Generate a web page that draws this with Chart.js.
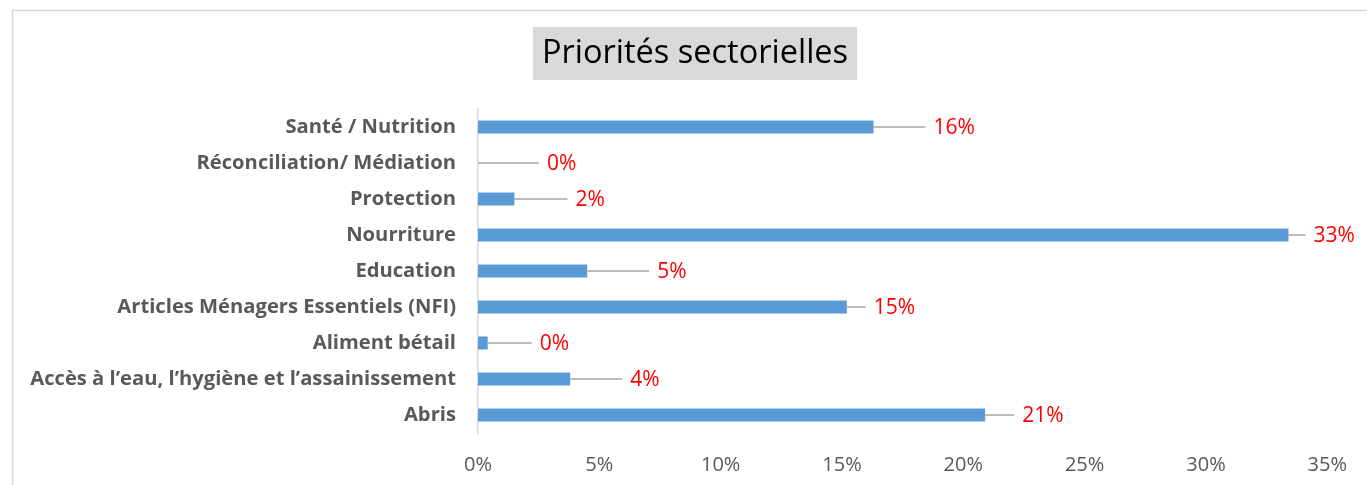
<!DOCTYPE html>
<html><head><meta charset="utf-8">
<script src="https://cdn.jsdelivr.net/npm/chart.js@4"></script>
<style>html,body{margin:0;padding:0;background:#fff}canvas{display:block}</style>
</head><body>
<div style="width:1367px;height:485px"><canvas id="c" width="1367" height="485"></canvas></div>
<script>
const categories = [
  'Santé / Nutrition',
  'Réconciliation/ Médiation',
  'Protection',
  'Nourriture',
  'Education',
  'Articles Ménagers Essentiels (NFI)',
  'Aliment bétail',
  'Accès à l\u2019eau, l\u2019hygiène et l\u2019assainissement',
  'Abris'
];
const values = [16.3, 0, 1.5, 33.4, 4.5, 15.2, 0.4, 3.8, 20.9];
const xTicks = [0, 5, 10, 15, 20, 25, 30, 35];
const titleText = 'Priorités sectorielles';
// leader-line lengths (px) for the data labels, as placed in the original
const leaderLengths = [52, 61, 53, 17, 62, 19, 44, 52, 29];

const FONT = '"Open Sans", "Noto Sans", sans-serif';

const decor = {
  id: 'decor',
  beforeDraw(chart) {
    const ctx = chart.ctx;
    ctx.save();
    ctx.fillStyle = '#fff';
    ctx.fillRect(0, 0, chart.width, chart.height);
    ctx.strokeStyle = '#d9d9d9';
    ctx.lineWidth = 1.5;
    ctx.beginPath();
    ctx.moveTo(12.5, chart.height);
    ctx.lineTo(12.5, 10.5);
    ctx.lineTo(chart.width, 10.5);
    ctx.stroke();
    // title box
    ctx.font = '32.5px ' + FONT;
    const w = ctx.measureText(titleText).width;
    const cx = 695, cy = 53.5;
    ctx.fillStyle = '#d9d9d9';
    ctx.fillRect(cx - w / 2 - 9, 27, w + 18, 53);
    ctx.fillStyle = '#000';
    ctx.textAlign = 'center';
    ctx.textBaseline = 'middle';
    ctx.fillText(titleText, cx, cy);
    ctx.restore();
  },
  afterDatasetsDraw(chart) {
    const ctx = chart.ctx;
    const meta = chart.getDatasetMeta(0);
    ctx.save();
    ctx.font = '21px ' + FONT;
    ctx.textAlign = 'left';
    ctx.textBaseline = 'middle';
    meta.data.forEach((bar, i) => {
      const x0 = bar.x, y = bar.y;
      const x1 = x0 + leaderLengths[i];
      ctx.strokeStyle = '#a6a6a6';
      ctx.lineWidth = 1.5;
      ctx.beginPath();
      ctx.moveTo(x0, y);
      ctx.lineTo(x1, y);
      ctx.stroke();
      ctx.fillStyle = '#ff0000';
      ctx.fillText(Math.round(values[i]) + '%', x1 + 8, y + 1);
    });
    ctx.restore();
  }
};

new Chart(document.getElementById('c'), {
  type: 'bar',
  data: {
    labels: categories,
    datasets: [{
      data: values,
      backgroundColor: '#5b9bd5',
      borderWidth: 0,
      barPercentage: 0.36,
      categoryPercentage: 1
    }]
  },
  options: {
    indexAxis: 'y',
    responsive: false,
    animation: false,
    devicePixelRatio: 1,
    layout: { padding: { top: 109, right: 36, left: 0, bottom: 0 } },
    plugins: { legend: { display: false }, tooltip: { enabled: false }, title: { display: false } },
    scales: {
      x: {
        min: xTicks[0],
        max: xTicks[xTicks.length - 1],
        afterBuildTicks: s => { s.ticks = xTicks.map(v => ({ value: v })); },
        ticks: {
          callback: v => v + '%',
          color: '#595959',
          font: { family: FONT, size: 20 },
          padding: 20,
          maxRotation: 0
        },
        grid: { display: false, drawTicks: false },
        border: { display: false },
        afterFit: s => { s.height = 52; }
      },
      y: {
        grid: { display: false, drawTicks: false },
        border: { display: true, color: '#d9d9d9', width: 1.5 },
        ticks: {
          color: '#595959',
          font: { family: FONT, size: 20.2, weight: 'bold' },
          padding: 22,
          autoSkip: false
        },
        afterFit: s => { s.width = 478; }
      }
    }
  },
  plugins: [decor]
});
</script>
</body></html>
